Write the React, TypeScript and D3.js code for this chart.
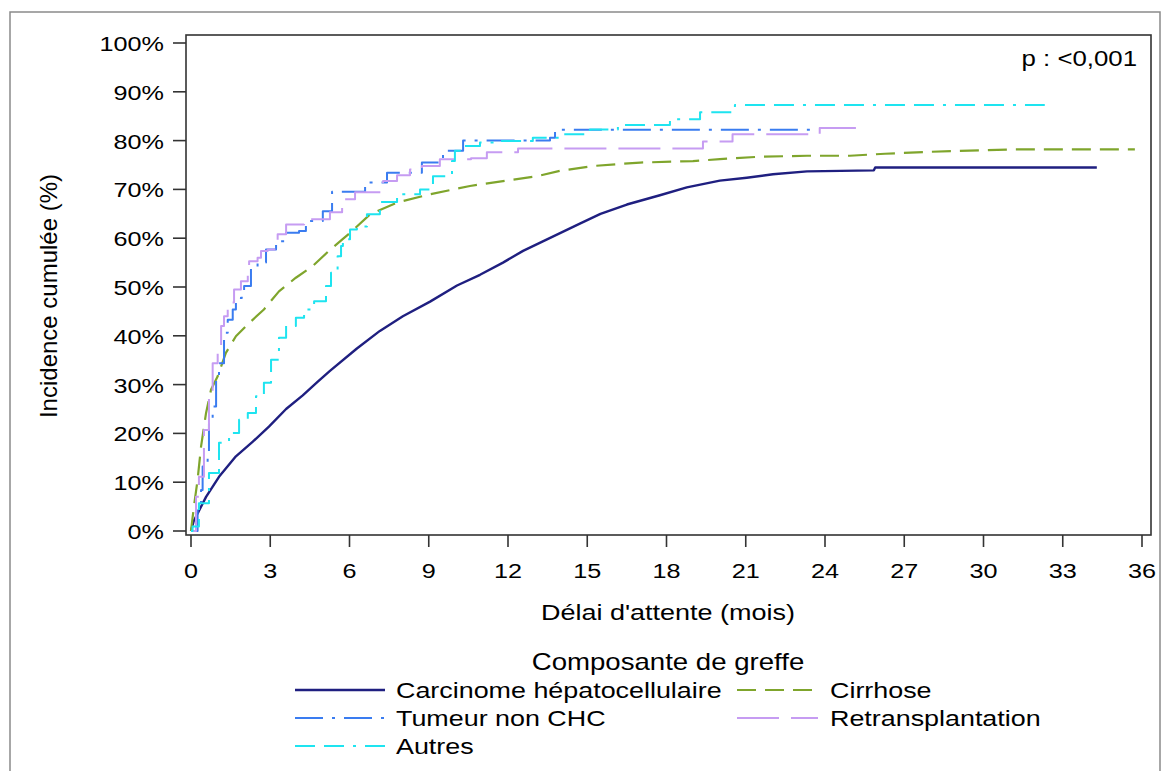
import React from 'react';
import * as d3 from 'd3';

// cumulative incidence (%) by waiting time (months)
const carcinome: [number, number][] = [
  [0, 0], [0.1, 2.0], [0.25, 3.6], [0.57, 7.0], [1.06, 11.1], [1.7, 15.3], [2.34, 18.3], [2.95, 21.4],
  [3.6, 25.0], [4.23, 27.8], [4.8, 30.6], [5.26, 32.8], [6.28, 37.4], [7.15, 41.0], [8.02, 44.0],
  [9.05, 47.0], [10.07, 50.3], [10.94, 52.5], [11.81, 55.0], [12.57, 57.4], [13.3, 59.3],
  [14.72, 63.0], [15.5, 65.0], [16.5, 66.9], [17.75, 68.8], [18.77, 70.4], [20.02, 71.8],
  [21.04, 72.4], [22.03, 73.1], [23.32, 73.7], [25.85, 73.9], [25.9, 74.5], [34.29, 74.5],
];
const cirrhose: [number, number][] = [
  [0, 0], [0.11, 5.0], [0.25, 10.5], [0.38, 17.3], [0.57, 24.2], [0.76, 29.0], [1.01, 31.7],
  [1.32, 36.5], [1.7, 39.9], [2.2, 42.6], [2.76, 45.4], [3.33, 49.1], [3.97, 51.9], [4.61, 54.3],
  [5.22, 57.4], [5.74, 59.8], [6.02, 61.1], [6.78, 64.9], [7.8, 67.3], [9.05, 69.0], [10.56, 70.7],
  [11.81, 71.7], [13.1, 72.7], [13.97, 73.8], [15.22, 74.8], [17.0, 75.5], [19.0, 75.8],
  [20.02, 76.2], [21.54, 76.7], [23.32, 76.9], [24.94, 76.9], [26.27, 77.3], [27.97, 77.7],
  [31.11, 78.2], [35.73, 78.2],
];
const tumeur: [number, number][] = [
  [0, 0], [0.25, 5.0], [0.38, 8.4], [0.44, 13.2], [0.63, 16.0], [0.68, 22.1], [0.82, 25.5],
  [0.95, 31.0], [1.06, 34.4], [1.25, 40.6], [1.39, 43.3], [1.58, 45.4], [1.7, 47.1], [1.89, 47.8],
  [2.01, 50.2], [2.27, 53.9], [2.52, 55.0], [2.84, 57.7], [3.22, 59.4], [3.6, 61.1], [4.09, 61.5],
  [4.35, 63.5], [4.99, 65.5], [5.34, 69.5], [6.59, 71.4], [7.42, 73.4], [8.74, 75.5], [9.54, 77.9],
  [10.3, 80.0], [13.59, 80.6], [13.78, 82.2], [23.73, 82.2],
];
const retransplantation: [number, number][] = [
  [0, 0], [0.19, 7.0], [0.3, 11.1], [0.49, 20.7], [0.68, 27.6], [0.82, 34.4], [1.01, 37.8],
  [1.14, 42.0], [1.25, 44.0], [1.39, 46.8], [1.63, 49.5], [1.89, 51.2], [2.15, 52.9], [2.2, 55.3],
  [2.52, 56.0], [2.65, 57.4], [2.9, 57.7], [3.28, 60.8], [3.6, 62.8], [4.28, 63.9], [5.26, 65.3],
  [5.72, 68.0], [6.21, 69.4], [7.27, 71.7], [7.8, 72.9], [8.29, 74.1], [8.74, 74.8], [9.42, 76.2],
  [10.6, 76.4], [11.2, 77.6], [12.38, 78.4], [19.38, 79.8], [20.5, 81.3], [23.8, 82.6], [25.5, 82.6],
];
const autres: [number, number][] = [
  [0, 0], [0.06, 0.9], [0.3, 5.7], [0.68, 11.9], [1.06, 18.1], [1.44, 20.1], [1.82, 22.8],
  [2.15, 24.2], [2.46, 27.6], [2.76, 30.4], [3.03, 35.1], [3.33, 39.6], [3.6, 42.0], [3.97, 43.7],
  [4.28, 45.4], [4.66, 47.1], [5.11, 50.2], [5.3, 52.9], [5.55, 56.3], [5.68, 58.4], [5.75, 59.8],
  [6.02, 61.8], [6.28, 62.4], [6.66, 64.9], [7.15, 67.4], [7.8, 69.0], [8.67, 70.0], [9.16, 72.7],
  [9.88, 75.8], [9.99, 77.9], [10.26, 78.9], [10.94, 79.6], [11.7, 79.9], [12.94, 80.6],
  [14.08, 81.3], [15.1, 82.3], [16.16, 83.2], [18.13, 84.4], [19.27, 85.8], [20.59, 87.3],
  [32.32, 87.3],
];

const xTicks = [0, 3, 6, 9, 12, 15, 18, 21, 24, 27, 30, 33, 36];
const yTicks = [0, 10, 20, 30, 40, 50, 60, 70, 80, 90, 100];

const series = [
  { name: 'Carcinome hépatocellulaire', data: carcinome, color: '#1f1f80', dash: null, width: 2.4, step: false },
  { name: 'Cirrhose', data: cirrhose, color: '#7fa52c', dash: '19,9', width: 2.2, step: false },
  { name: 'Tumeur non CHC', data: tumeur, color: '#3a7cf0', dash: '28,9,3,9', width: 2, step: true },
  { name: 'Retransplantation', data: retransplantation, color: '#c69cf2', dash: '42,12', width: 2, step: true },
  { name: 'Autres', data: autres, color: '#1ee4f0', dash: '20,9,20,9,3,9', width: 2, step: true },
];

const FONT = '"Liberation Sans", Arial, sans-serif';
const SX = 1.2;

const T = ({ x, y, anchor = 'start', size = 21, children }: any) => (
  <text
    transform={`translate(${x},${y}) scale(${SX},1)`}
    textAnchor={anchor}
    fontSize={size}
    fontFamily={FONT}
    fill="#000"
  >
    {children}
  </text>
);

export default function App() {
  const x = d3.scaleLinear().domain([0, 36]).range([191, 1142]);
  const y = d3.scaleLinear().domain([0, 100]).range([531, 43]);

  const frame = { left: 186, top: 35, right: 1151, bottom: 535 };

  const legendRows = [
    { s: series[0], lx: 295, rx: 385, tx: 396, ty: 690 },
    { s: series[1], lx: 737, rx: 818, tx: 830, ty: 690 },
    { s: series[2], lx: 295, rx: 385, tx: 396, ty: 718 },
    { s: series[3], lx: 737, rx: 818, tx: 830, ty: 718 },
    { s: series[4], lx: 295, rx: 385, tx: 396, ty: 746 },
  ];

  return (
    <svg
      width={1163}
      height={771}
      style={{ position: 'absolute', left: 0, top: 0, background: '#fff' }}
    >
      <rect x={0} y={0} width={1163} height={771} fill="#fff" />
      <rect x={10} y={12} width={1150} height={800} fill="none" stroke="#8a8a8a" strokeWidth={1.5} />

      {/* curves */}
      <g clipPath="url(#plotclip)">
        {series.map((s) => {
          const line = d3
            .line<[number, number]>()
            .x((d) => x(d[0]))
            .y((d) => y(d[1]))
            .curve(s.step ? d3.curveStepAfter : d3.curveLinear);
          return (
            <path
              key={s.name}
              d={line(s.data) || ''}
              fill="none"
              stroke={s.color}
              strokeWidth={s.width}
              strokeDasharray={s.dash || undefined}
              strokeLinejoin="round"
            />
          );
        })}
      </g>

      {/* plot frame */}
      <rect
        x={frame.left}
        y={frame.top}
        width={frame.right - frame.left}
        height={frame.bottom - frame.top}
        fill="none"
        stroke="#333"
        strokeWidth={1.6}
      />

      {/* y axis */}
      {yTicks.map((t) => (
        <g key={'y' + t}>
          <line x1={frame.left - 13} x2={frame.left} y1={y(t)} y2={y(t)} stroke="#333" strokeWidth={1.6} />
          <T x={164} y={y(t) + 8} anchor="end">{`${t}%`}</T>
        </g>
      ))}

      {/* x axis */}
      {xTicks.map((t) => (
        <g key={'x' + t}>
          <line x1={x(t)} x2={x(t)} y1={frame.bottom} y2={frame.bottom + 12} stroke="#333" strokeWidth={1.6} />
          <T x={x(t)} y={578} anchor="middle">{t}</T>
        </g>
      ))}

      <T x={668} y={620} anchor="middle" size={22.5}>Délai d'attente (mois)</T>
      <text
        transform="translate(57,296) rotate(-90)"
        textAnchor="middle"
        fontSize={24}
        fontFamily={FONT}
        fill="#000"
      >
        Incidence cumulée (%)
      </text>

      <T x={1137} y={66} anchor="end" size={21.5}>p : &lt;0,001</T>

      {/* legend */}
      <T x={668} y={670} anchor="middle" size={23}>Composante de greffe</T>
      {legendRows.map((r) => (
        <g key={r.s.name}>
          <line
            x1={r.lx}
            x2={r.rx}
            y1={r.ty}
            y2={r.ty}
            stroke={r.s.color}
            strokeWidth={r.s.width}
            strokeDasharray={r.s.dash || undefined}
          />
          <T x={r.tx} y={r.ty + 8} size={22.4}>{r.s.name}</T>
        </g>
      ))}

      <defs>
        <clipPath id="plotclip">
          <rect x={frame.left} y={frame.top} width={frame.right - frame.left} height={frame.bottom - frame.top} />
        </clipPath>
      </defs>
    </svg>
  );
}
